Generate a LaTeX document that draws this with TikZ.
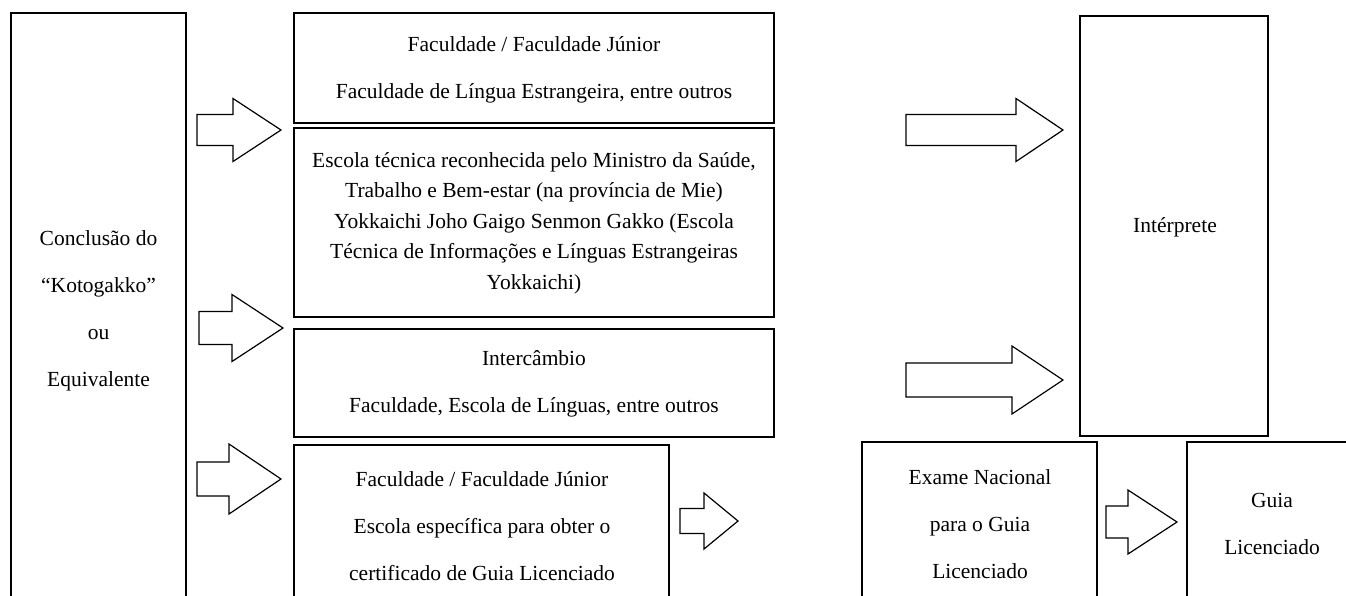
\documentclass[tikz,border=0pt]{standalone}
\usepackage{fontspec}
\setmainfont{Liberation Serif}
\newcommand{\blockarrow}[6]{\draw[arr] (#1,{#4-#5}) -- (#2,{#4-#5}) -- (#2,{#4-#6}) -- (#3,#4) -- (#2,{#4+#6}) -- (#2,{#4+#5}) -- (#1,{#4+#5}) -- cycle;}
\begin{document}
\begin{tikzpicture}[x=1pt,y=-1pt,
  box/.style={draw=black,line width=1.6pt,rectangle,inner sep=0pt},
  arr/.style={draw=black,line width=1.2pt,fill=white,line join=miter},
  txt/.style={align=center,inner sep=0pt,font=\fontsize{21.5}{47}\selectfont},
  tight/.style={align=center,inner sep=0pt,font=\fontsize{21.5}{30.5}\selectfont}]
\useasboundingbox (0,0) rectangle (1346,595);
\clip (0,0) rectangle (1346,595);
% boxes
\node[box,minimum width=175pt,minimum height=607pt] (start) at (98.5,316.5) {};
\node[box,minimum width=480pt,minimum height=110pt] (fac) at (534,68) {};
\node[box,minimum width=480pt,minimum height=189pt] (tec) at (534,222.5) {};
\node[box,minimum width=480pt,minimum height=108pt] (inter) at (534,383) {};
\node[box,minimum width=375pt,minimum height=175pt] (guiaesc) at (481.5,532.5) {};
\node[box,minimum width=235pt,minimum height=178pt] (exame) at (979.5,531) {};
\node[box,minimum width=213pt,minimum height=178pt] (guia) at (1293.5,531) {};
\node[box,minimum width=188pt,minimum height=420pt] (interp) at (1174,226) {};
% texts
\node[txt] (tstart) at (98.5,311) {Conclusão do\\“Kotogakko”\\ou\\Equivalente};
\node[txt] (tfac) at (534,70) {Faculdade / Faculdade Júnior\\Faculdade de Língua Estrangeira, entre outros};
\node[tight] (ttec) at (534,223) {Escola técnica reconhecida pelo Ministro da Saúde,\\Trabalho e Bem-estar (na província de Mie)\\Yokkaichi Joho Gaigo Senmon Gakko (Escola\\Técnica de Informações e Línguas Estrangeiras\\Yokkaichi)};
\node[txt] (tinter) at (534,384) {Intercâmbio\\Faculdade, Escola de Línguas, entre outros};
\node[txt] (tguiaesc) at (482,526) {Faculdade / Faculdade Júnior\\Escola específica para obter o\\certificado de Guia Licenciado};
\node[txt] (texame) at (980,524) {Exame Nacional\\para o Guia\\Licenciado};
\node[txt] (tguia) at (1272,524) {Guia\\Licenciado};
\node[txt] (tinterp) at (1175,227) {Intérprete};
% arrows
\blockarrow{197}{233}{281}{130}{15.5}{31.5}
\blockarrow{199}{232}{283}{328}{16.5}{33.5}
\blockarrow{197}{229}{281}{479}{17}{35}
\blockarrow{906}{1016}{1063}{130}{15.5}{31.5}
\blockarrow{906}{1012}{1063}{380}{17}{34}
\blockarrow{680}{704}{738}{521}{12.5}{28}
\blockarrow{1106}{1128}{1177}{522}{16}{32}
\end{tikzpicture}
\end{document}
